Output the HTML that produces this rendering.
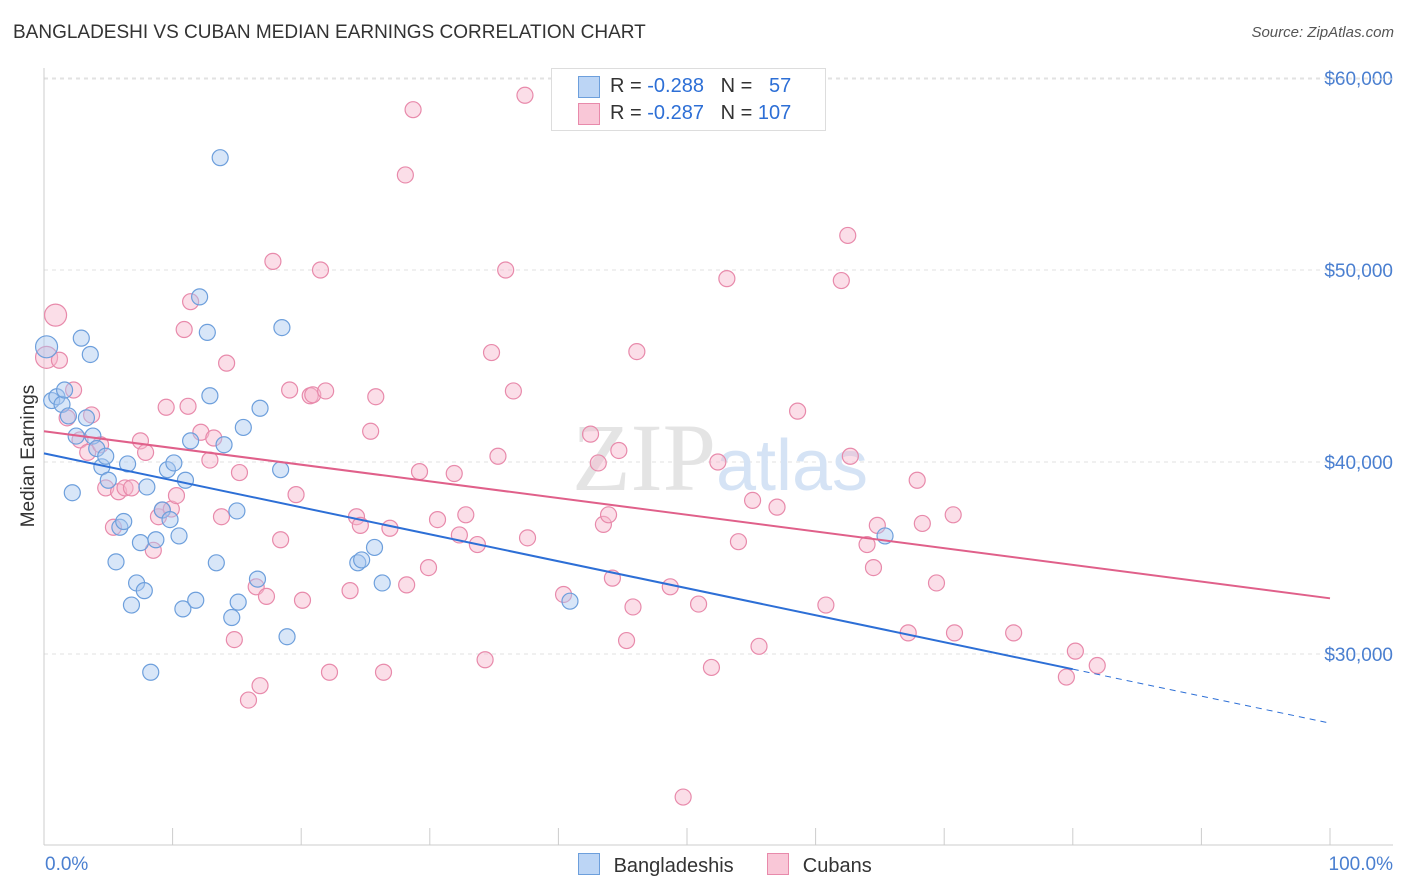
<!DOCTYPE html>
<html><head><meta charset="utf-8">
<style>
body{margin:0;background:#fff;font-family:"Liberation Sans",sans-serif;}
#wrap{position:relative;width:1406px;height:892px;overflow:hidden;}
.t{position:absolute;white-space:nowrap;}
</style></head>
<body>
<div id="wrap">
<div class="t" style="left:13px;top:22px;font-size:19px;color:#333;">BANGLADESHI VS CUBAN MEDIAN EARNINGS CORRELATION CHART</div>
<div class="t" style="right:12px;top:24px;font-size:15px;color:#555;font-style:italic;">Source: ZipAtlas.com</div>
<svg id="svg" width="1406" height="892" style="position:absolute;left:0;top:0;"></svg>
</div>
<script>
const yTicks=[30000,40000,50000,60000];
const yTickLabels=["$30,000","$40,000","$50,000","$60,000"];
const xTickLabels=["0.0%","100.0%"];
const blueX=[0.2,0.6,1.0,1.4,1.6,1.9,2.2,2.5,2.9,3.3,3.6,3.8,4.1,4.5,4.8,5.0,5.6,5.9,6.2,6.5,6.8,7.2,7.5,7.8,8.0,8.3,8.7,9.2,9.6,9.8,10.1,10.5,10.8,11.0,11.4,11.8,12.1,12.7,12.9,13.4,13.7,14.0,14.6,15.1,15.5,15.0,16.6,16.8,18.4,18.5,18.9,24.4,24.7,25.7,26.3,40.9,65.4];
const blueY=[46.0,43.2,43.4,43.0,43.75,42.4,38.4,41.35,46.45,42.3,45.6,41.35,40.7,39.75,40.3,39.05,34.8,36.6,36.9,39.9,32.55,33.7,35.8,33.3,38.7,29.05,35.95,37.5,39.6,37.0,39.95,36.15,32.35,39.05,41.1,32.8,48.6,46.75,43.45,34.75,55.85,40.9,31.9,32.7,41.8,37.45,33.9,42.8,39.6,47.0,30.9,34.75,34.9,35.55,33.7,32.75,36.15];
const pinkX=[0.9,0.2,1.2,2.3,1.8,3.7,2.8,3.4,4.4,4.8,5.4,5.8,6.3,6.8,7.5,7.9,8.5,8.9,9.2,9.5,9.9,10.3,10.9,11.2,11.4,12.2,12.9,13.2,13.8,14.2,14.8,15.2,15.9,16.5,16.8,17.3,17.8,18.4,19.1,19.6,20.1,20.7,20.9,21.5,21.9,22.2,23.8,24.3,24.6,25.4,25.8,26.4,26.9,28.1,28.2,28.7,29.2,29.9,30.6,31.9,32.3,32.8,33.7,34.3,34.8,35.3,35.9,36.5,37.4,37.6,40.4,42.5,43.1,43.5,43.9,44.2,44.7,45.3,45.8,46.1,48.7,50.9,51.9,52.4,53.1,54.0,55.1,55.6,57.0,58.6,60.8,62.0,62.5,62.7,64.0,64.5,64.8,67.2,67.9,68.3,69.4,70.7,70.8,75.4,79.5,80.2,81.9,49.7];
const pinkY=[47.65,45.45,45.3,43.75,42.3,42.45,41.15,40.5,40.9,38.65,36.6,38.45,38.65,38.65,41.1,40.5,35.4,37.15,37.5,42.85,37.55,38.25,46.9,42.9,48.35,41.55,40.1,41.25,37.15,45.15,30.75,39.45,27.6,33.5,28.35,33.0,50.45,35.95,43.75,38.3,32.8,43.45,43.5,50.0,43.7,29.05,33.3,37.15,36.7,41.6,43.4,29.05,36.55,54.95,33.6,58.35,39.5,34.5,37.0,39.4,36.2,37.25,35.7,29.7,45.7,40.3,50.0,43.7,59.1,36.05,33.1,41.45,39.95,36.75,37.25,33.95,40.6,30.7,32.45,45.75,33.5,32.6,29.3,40.0,49.55,35.85,38.0,30.4,37.65,42.65,32.55,49.45,51.8,40.3,35.7,34.5,36.7,31.1,39.05,36.8,33.7,37.25,31.1,31.1,28.8,30.15,29.4,22.55];
const blueTrend=[40.45,26.4];
const pinkTrend=[41.6,32.9];
const svg=document.getElementById('svg');
const NS='http://www.w3.org/2000/svg';
const X=v=>44+v*12.86;
const Y=v=>654-(v-30000)*0.0192;
const Yk=v=>Y(v*1000);
function mk(tag,attrs,parent){const e=document.createElementNS(NS,tag);for(const k in attrs)e.setAttribute(k,attrs[k]);(parent||svg).appendChild(e);return e;}
// gridlines
yTicks.forEach((t,i)=>{
 const g=mk('line',{x1:44,x2:1393,y1:Y(t),y2:Y(t),stroke:'#e2e2e2','stroke-dasharray':'4,4'});
 
 
 const tx=mk('text',{x:1393,y:Y(t)+7,'text-anchor':'end','font-size':19,fill:'#4a7fd0','font-family':'Liberation Sans, sans-serif'});
 tx.textContent=yTickLabels[i];
 
 
});
mk('line',{x1:44,x2:1393,y1:79,y2:79,stroke:'#e2e2e2','stroke-dasharray':'4,4'});
// axes
const ax=mk('line',{x1:44,x2:44,y1:68,y2:845,stroke:'#ccc'});


const bx=mk('line',{x1:44,x2:1393,y1:845,y2:845,stroke:'#ccc'});


for(let i=0;i<=10;i++){const tk=mk('line',{x1:X(i*10),x2:X(i*10),y1:828,y2:845,stroke:'#ccc'});
 
 }
[[X(0)+1,'start',0],[1393,'end',1]].forEach(([x,a,i])=>{const t=mk('text',{x:x,y:870,'text-anchor':a,'font-size':19,fill:'#4a7fd0','font-family':'Liberation Sans, sans-serif'});t.textContent=xTickLabels[i];
 
 });
const yt=mk('text',{x:34,y:456,'text-anchor':'middle','font-size':19,fill:'#333',transform:'rotate(-90 34 456)','font-family':'Liberation Sans, sans-serif'});
yt.textContent='Median Earnings';


// watermark
const wm=mk('text',{x:720,y:490,'text-anchor':'middle','font-size':96,'font-family':'Liberation Serif, serif',fill:'#e4e4e4'});
wm.innerHTML='ZIP<tspan fill="#d5e3f5" font-family="Liberation Sans, sans-serif" font-size="72">atlas</tspan>';


// points
function pts(xs,ys,fill,stroke,name){xs.forEach((x,i)=>{const r=(name==='cuban-point'&&i<2)||(name==='bangladeshi-point'&&i===0)?11:8;
 const c=mk('circle',{cx:X(x),cy:Yk(ys[i]),r:r,fill:fill,'fill-opacity':0.45,stroke:stroke,'stroke-width':1.2});
 
 });}
pts(pinkX,pinkY,'#f6b6cb','#e88aab','cuban-point');
pts(blueX,blueY,'#a9c8f0','#6d9fdc','bangladeshi-point');
// trends
const bAt=x=>blueTrend[0]+(blueTrend[1]-blueTrend[0])*x/100;
const l1=mk('line',{x1:X(0),y1:Yk(bAt(0)),x2:X(80),y2:Yk(bAt(80)),stroke:'#2d6fd6','stroke-width':2});


const l2=mk('line',{x1:X(80),y1:Yk(bAt(80)),x2:X(100),y2:Yk(bAt(100)),stroke:'#2d6fd6','stroke-width':1,'stroke-dasharray':'6,5'});


const l3=mk('line',{x1:X(0),y1:Yk(pinkTrend[0]),x2:X(100),y2:Yk(pinkTrend[1]),stroke:'#e0608a','stroke-width':2});


</script>
<div style="position:absolute;left:551px;top:68px;width:273px;height:61px;border:1px solid #ddd;background:#fff;font-size:20px;">
 <div style="position:absolute;left:26px;top:7px;width:20px;height:20px;background:#bcd5f5;border:1px solid #6d9fdc;"></div>
 <div class="t" style="left:58px;top:6px;color:#333;">R = <span style="color:#2d6fd6">-0.288</span>&nbsp;&nbsp;&nbsp;N = &nbsp;&nbsp;<span style="color:#2d6fd6">57</span></div>
 <div style="position:absolute;left:26px;top:34px;width:20px;height:20px;background:#f9c7d7;border:1px solid #e88aab;"></div>
 <div class="t" style="left:58px;top:33px;color:#333;">R = <span style="color:#2d6fd6">-0.287</span>&nbsp;&nbsp;&nbsp;N = <span style="color:#2d6fd6">107</span></div>
</div>
<div style="position:absolute;left:578px;top:853px;font-size:20px;color:#333;">
 <span style="display:inline-block;width:20px;height:20px;background:#bcd5f5;border:1px solid #6d9fdc;vertical-align:-3px;"></span>
 <span style="margin-left:8px;">Bangladeshis</span>
 <span style="display:inline-block;width:20px;height:20px;background:#f9c7d7;border:1px solid #e88aab;vertical-align:-3px;margin-left:28px;"></span>
 <span style="margin-left:8px;">Cubans</span>
</div>
</body></html>
